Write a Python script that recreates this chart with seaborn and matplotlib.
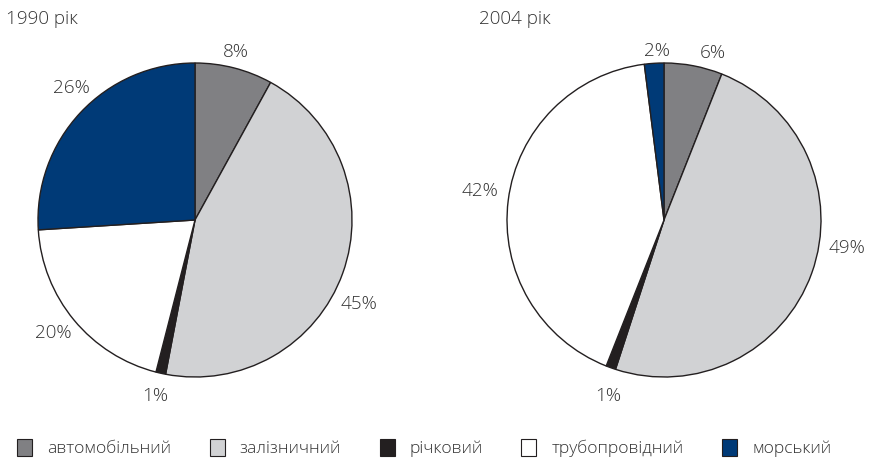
import numpy as np
import matplotlib
matplotlib.use("Agg")
import matplotlib.pyplot as plt
from matplotlib.patches import Patch
import seaborn as sns

categories = ["автомобільний", "залізничний", "річковий", "трубопровідний", "морський"]
values_1990 = [8, 45, 1, 20, 26]
values_2004 = [6, 49, 1, 42, 2]
titles = ["1990 рік", "2004 рік"]
colors = ["#808083", "#d1d2d4", "#231f20", "#ffffff", "#003a77"]

sns.set_theme(style="white")
plt.rcParams['font.family'] = ['Open Sans', 'DejaVu Sans']
txt_color = "#333333"
fs_lab = 13.6
fs_leg = 12.6

W, H = 869, 462
fig = plt.figure(figsize=(W / 100, H / 100), dpi=100)
palette = sns.color_palette(colors)

R_PX = 157
LIM = 1.3
size_px = 2 * LIM * R_PX

def make_ax(cx, cy):
    left = (cx - size_px / 2) / W
    bottom = (H - cy - size_px / 2) / H
    return fig.add_axes([left, bottom, size_px / W, size_px / H])

# label placement: (distance factor, clockwise angle offset in degrees)
label_place = {
    0: [(1.10, -0.7), (1.176, 7.3), (1.15, 0.2), (1.156, 1.1), (1.153, 3.8)],
    1: [(1.108, 5.6), (1.178, -11.1), (1.176, -2.2), (1.189, 1.6), (1.076, 1.1)],
}

for i, (vals, cx) in enumerate([(values_1990, 195), (values_2004, 664)]):
    ax = make_ax(cx, 220)
    wedges, _ = ax.pie(vals, colors=palette, startangle=90, counterclock=False,
                       radius=1.0,
                       wedgeprops=dict(edgecolor="#231f20", linewidth=1.0))
    ax.set_xlim(-LIM, LIM)
    ax.set_ylim(-LIM, LIM)
    ax.set_aspect("equal")
    ax.axis("off")
    for j, w in enumerate(wedges):
        d, off = label_place[i][j]
        ang = np.deg2rad((w.theta1 + w.theta2) / 2 - off)
        ax.text(d * np.cos(ang), d * np.sin(ang), f"{vals[j]}%",
                ha="center", va="center", fontsize=fs_lab, color=txt_color,
                fontweight="light")

fig.text(6 / W, 1 - 19 / H, titles[0], ha="left", va="center", fontsize=fs_lab,
         color=txt_color, fontweight="light")
fig.text(479 / W, 1 - 19 / H, titles[1], ha="left", va="center", fontsize=fs_lab,
         color=txt_color, fontweight="light")

handles = [Patch(facecolor=c, edgecolor="#231f20", linewidth=0.8) for c in colors]
leg = fig.legend(handles, categories, loc="center left", bbox_to_anchor=(17 / W, 1 - 448 / H),
                 ncol=5, frameon=False, fontsize=fs_leg, handlelength=0.86, handleheight=1.09,
                 handletextpad=0.86, columnspacing=2.2, borderaxespad=0, borderpad=0)
for t in leg.get_texts():
    t.set_color(txt_color)
    t.set_fontweight("light")

fig.savefig("out.png", dpi=100)
